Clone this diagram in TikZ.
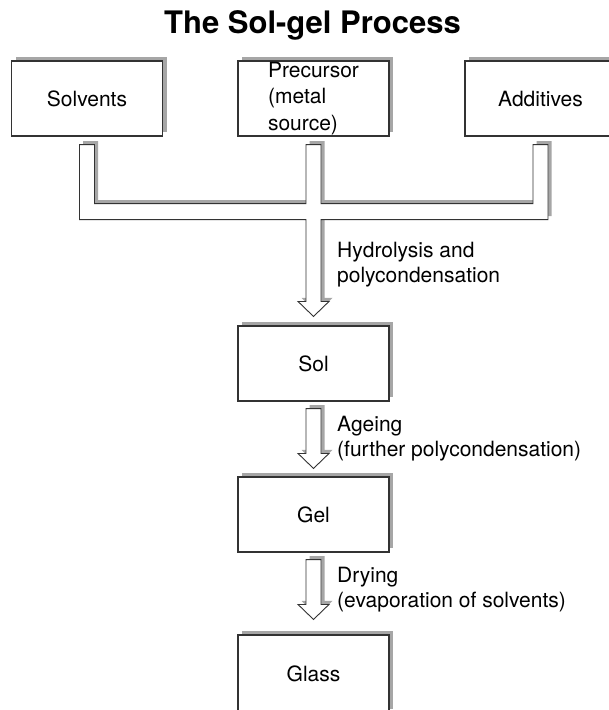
\documentclass[tikz,border=0pt]{standalone}
\usepackage{fontspec}
\setmainfont{TeX Gyre Heros}
\usetikzlibrary{calc}
\usetikzlibrary{shadows}
\tikzset{>=latex}
\tikzset{
  stagebox/.style={draw=black!80, line width=1.1pt, fill=white,
    minimum width=151pt, minimum height=75pt, inner sep=0pt, align=left,
    font=\fontsize{21}{26.5}\selectfont,
    general shadow={fill=black!35, shadow xshift=4pt, shadow yshift=4pt}},
  pipe/.style={draw=black!80, line width=0.9pt, fill=white,
    general shadow={fill=black!35, shadow xshift=3.5pt, shadow yshift=3.5pt}},
  steplabel/.style={anchor=west, align=left, inner sep=0pt,
    font=\fontsize{21}{25.5}\selectfont}
}

\begin{document}
\begin{tikzpicture}[x=1pt, y=-1pt]
    \useasboundingbox (0,0) rectangle (609,710);
    \clip (0,0) rectangle (609,710);

    \node [anchor=base, font=\bfseries\fontsize{31}{36}\selectfont]
    (title) at (312.5, 33) {The Sol-gel Process};

    \node [stagebox] (solv) at (87, 98.5) {Solvents};
    \node [stagebox] (prec) at (313.5, 98.5) {Precursor\\(metal\\source)};
    \node [stagebox] (addi) at (540.5, 98.5) {Additives};

    \node [stagebox] (sol) at (313.5, 363.5) {Sol};
    \node [stagebox] (gel) at (313.5, 514.5) {Gel};
    \node [stagebox, minimum height=78pt] (glass) at (313.5, 674) {Glass};

    % stems and bus into the first arrow
    \coordinate (sl) at ($(solv.south)+(-7.5,8)$);
    \coordinate (sr) at ($(solv.south)+(7.5,8)$);
    \coordinate (pl) at ($(prec.south)+(-7.5,8)$);
    \coordinate (pr) at ($(prec.south)+(7.5,8)$);
    \coordinate (al) at ($(addi.south)+(-7.5,8)$);
    \coordinate (ar) at ($(addi.south)+(7.5,8)$);
    \coordinate (bt) at ($(prec.south)+(0,67)$);
    \coordinate (bb) at ($(prec.south)+(0,83)$);
    \coordinate (hl) at ($(sol.north)+(-15.5,-24)$);
    \coordinate (hr) at ($(sol.north)+(15.5,-24)$);
    \coordinate (tip) at ($(sol.north)+(0,-9)$);

    \draw [pipe] (sl) -- (sl |- bb) -- (pl |- bb) -- (pl |- hl) -- (hl)
    -- (tip) -- (hr) -- (pr |- hr) -- (pr |- bb) -- (ar |- bb) -- (ar)
    -- (al) -- (al |- bt) -- (pr |- bt) -- (pr) -- (pl) -- (pl |- bt)
    -- (sr |- bt) -- (sr) -- cycle;

    % sol to gel
    \coordinate (a1) at ($(sol.south)+(0,7)$);
    \coordinate (a2) at ($(gel.north)+(0,-8)$);
    \draw [pipe] ($(a1)+(-7.5,0)$) -- ($(a2)+(-7.5,-15)$) -- ($(a2)+(-15.5,-15)$)
    -- (a2) -- ($(a2)+(15.5,-15)$) -- ($(a2)+(7.5,-15)$) -- ($(a1)+(7.5,0)$) -- cycle;

    % gel to glass
    \coordinate (d1) at ($(gel.south)+(0,7)$);
    \coordinate (d2) at ($(glass.north)+(0,-15)$);
    \draw [pipe] ($(d1)+(-7.5,0)$) -- ($(d2)+(-7.5,-15)$) -- ($(d2)+(-15.5,-15)$)
    -- (d2) -- ($(d2)+(15.5,-15)$) -- ($(d2)+(7.5,-15)$) -- ($(d1)+(7.5,0)$) -- cycle;

    \node [steplabel] (hydro) at (337, 264.5) {Hydrolysis and\\polycondensation};
    \node [steplabel] (ageing) at (337, 438.5) {Ageing\\(further polycondensation)};
    \node [steplabel] (drying) at (337, 589.5) {Drying\\(evaporation of solvents)};
\end{tikzpicture}
\end{document}
